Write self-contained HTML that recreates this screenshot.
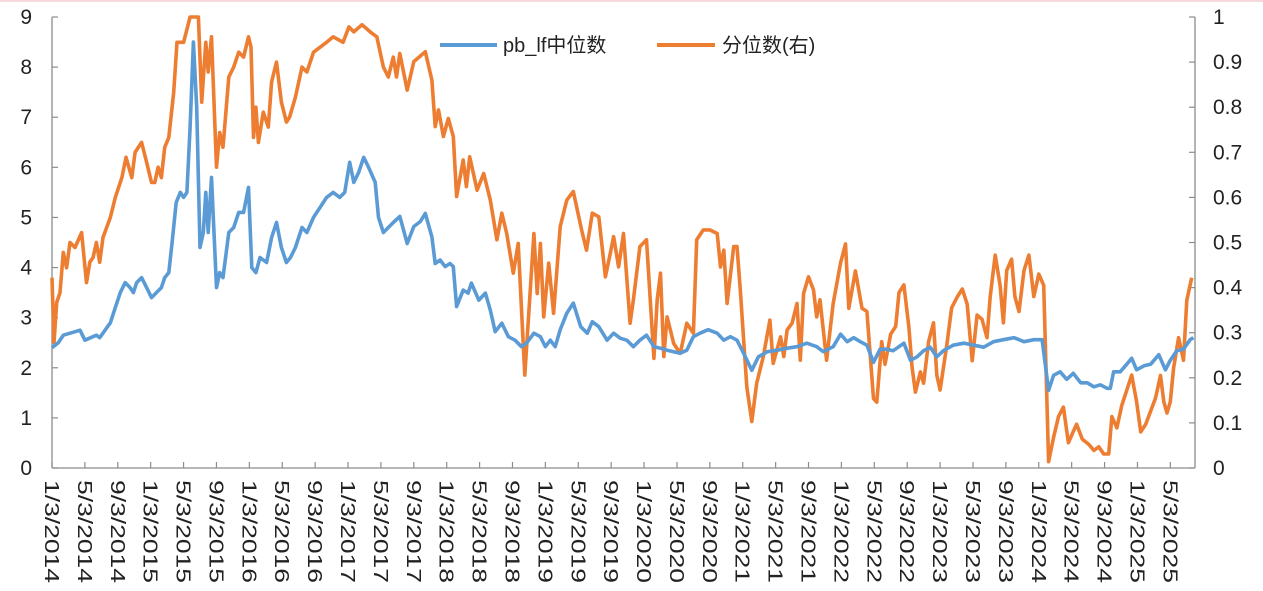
<!DOCTYPE html>
<html><head><meta charset="utf-8"><style>
html,body{margin:0;padding:0;background:#fff;}
svg{display:block;font-family:"Liberation Sans","Noto Sans CJK SC",sans-serif;}
</style></head><body>
<svg id="chart" width="1263" height="591" viewBox="0 0 1263 591" xmlns="http://www.w3.org/2000/svg">
<rect x="0" y="0" width="1263" height="2" fill="#f6d9de"/>
<g id="axes"></g>
<g id="series"></g>
<g>
  <g>
    <line x1="440" y1="45" x2="497" y2="45" stroke="#5B9BD5" stroke-width="4"/>
    <text x="503" y="52" font-size="20" fill="#222">pb_lf中位数</text>
  </g>
  <g>
    <line x1="657" y1="45" x2="715" y2="45" stroke="#ED7D31" stroke-width="4"/>
    <text x="722" y="52" font-size="20" fill="#222">分位数(右)</text>
  </g>
</g>
</svg>
<script>
// months since Jan 2014
const pbMonths = [0,0.77,1.38,2.39,3.4,4.0,5.4,5.8,7.1,7.7,8.3,8.9,9.5,9.9,10.3,10.9,11.5,12.1,12.7,13.3,13.7,14.2,14.6,15.1,15.6,16.0,16.4,16.8,17.2,17.6,18.0,18.4,18.7,19.0,19.4,20.0,20.4,20.8,21.5,22.1,22.7,23.3,23.9,24.3,24.8,25.3,26.1,26.7,27.3,27.9,28.5,29.0,29.6,30.4,31.0,31.8,32.6,33.4,34.2,35.0,35.6,36.2,36.7,37.3,37.9,38.5,39.3,39.7,40.3,40.9,41.5,42.3,43.2,44.0,44.8,45.4,46.2,46.6,47.2,47.8,48.4,48.8,49.2,50.0,50.6,51.0,51.9,52.7,53.3,53.9,54.7,55.5,56.3,57.1,57.7,58.6,59.4,60.0,60.6,61.2,61.8,62.6,63.4,64.3,65.1,65.7,66.5,67.5,68.3,69.1,69.9,70.7,71.5,72.3,73.2,74.0,74.8,75.6,76.4,77.2,78.0,78.8,79.8,80.9,81.7,82.5,83.3,84.1,85.1,85.9,87.0,88.2,89.4,90.6,91.8,93.0,93.8,95.0,95.9,96.7,97.5,98.3,99.1,99.9,100.7,101.5,102.3,103.6,104.4,105.2,106.0,106.8,107.6,108.4,109.6,110.9,112.1,113.3,114.5,115.7,117.0,118.2,119.4,120.4,121.2,121.8,122.6,123.4,124.2,125.1,125.9,126.7,127.5,128.3,128.7,129.1,129.9,130.7,131.3,131.9,132.8,133.6,134.6,135.4,136.0,136.8,137.6,138.4,138.8];
const pbValues = [2.4,2.5,2.65,2.7,2.75,2.55,2.65,2.6,2.9,3.2,3.5,3.7,3.6,3.5,3.7,3.8,3.6,3.4,3.5,3.6,3.8,3.9,4.5,5.3,5.5,5.4,5.5,6.8,8.5,7.2,4.4,4.7,5.5,4.7,5.8,3.6,3.9,3.8,4.7,4.8,5.1,5.1,5.6,4.0,3.9,4.2,4.1,4.6,4.9,4.4,4.1,4.2,4.4,4.8,4.7,5.0,5.2,5.4,5.5,5.4,5.5,6.1,5.7,5.9,6.2,6.0,5.7,5.0,4.7,4.8,4.9,5.02,4.48,4.82,4.92,5.08,4.61,4.08,4.15,4.02,4.08,4.02,3.22,3.55,3.49,3.69,3.35,3.49,3.15,2.72,2.89,2.62,2.55,2.42,2.49,2.69,2.62,2.42,2.55,2.42,2.76,3.09,3.29,2.82,2.69,2.92,2.82,2.55,2.69,2.59,2.55,2.42,2.55,2.65,2.42,2.39,2.35,2.32,2.29,2.35,2.62,2.69,2.76,2.69,2.55,2.62,2.55,2.29,1.95,2.22,2.32,2.35,2.39,2.42,2.49,2.42,2.32,2.42,2.67,2.52,2.6,2.52,2.45,2.11,2.37,2.37,2.34,2.49,2.15,2.22,2.34,2.41,2.22,2.34,2.45,2.49,2.45,2.41,2.52,2.56,2.6,2.52,2.56,2.56,1.55,1.85,1.92,1.77,1.89,1.70,1.70,1.62,1.66,1.59,1.59,1.92,1.92,2.07,2.19,1.96,2.04,2.07,2.26,1.96,2.15,2.34,2.37,2.56,2.6];
const pctMonths = [0,0.24,0.57,0.97,1.38,1.78,2.19,2.8,3.6,4.2,4.6,5.0,5.4,5.8,6.2,7.1,7.7,8.5,9.0,9.7,10.1,10.9,11.5,12.1,12.5,12.9,13.3,13.7,14.2,14.8,15.2,16.0,16.8,17.8,18.2,18.7,19.0,19.4,20.0,20.4,20.8,21.5,22.1,22.7,23.3,23.9,24.2,24.5,24.8,25.1,25.7,26.3,26.7,27.3,27.9,28.5,28.9,29.6,30.4,31.0,31.8,33.4,34.2,35.4,36.1,36.7,37.7,38.7,39.5,40.3,40.9,41.5,41.9,42.3,43.2,44.0,45.4,46.2,46.6,47.0,47.6,48.2,48.8,49.2,50.0,50.4,50.8,51.7,52.5,53.3,54.1,54.7,55.3,56.1,56.7,57.5,58.6,59.0,59.4,59.8,60.4,61.0,61.8,62.6,63.4,64.4,65.0,65.7,66.5,67.3,67.9,68.3,68.9,69.5,70.3,70.7,71.5,72.3,73.2,73.6,74.0,74.4,74.8,75.6,76.4,77.2,78.0,78.4,79.2,80.0,80.9,81.3,81.7,82.1,82.9,83.3,83.7,84.5,85.1,85.7,86.5,87.3,87.7,88.6,89.0,89.4,90.0,90.6,91.0,91.4,92.0,92.6,93.0,93.4,94.2,95.0,95.9,96.5,96.9,97.7,98.5,99.1,99.9,100.3,100.9,101.3,102.0,102.6,103.0,103.6,104.2,104.6,105.0,105.6,106.0,106.6,107.2,107.6,108.0,108.8,109.4,110.1,110.7,111.3,111.9,112.5,113.1,113.7,114.1,114.7,115.3,115.7,116.1,116.7,117.1,117.6,118.2,118.8,119.4,120.0,120.6,121.2,121.8,122.4,123.0,123.6,124.2,124.6,125.3,126.1,126.7,127.3,127.9,128.5,128.9,129.5,130.1,130.7,131.3,131.9,132.4,133.0,133.6,134.2,134.8,135.2,135.6,136.0,136.4,137.0,137.6,138.0,138.6];
const pctValues = [0.422,0.278,0.367,0.389,0.478,0.444,0.5,0.489,0.522,0.411,0.456,0.467,0.5,0.456,0.511,0.556,0.6,0.644,0.689,0.644,0.7,0.722,0.678,0.633,0.633,0.667,0.644,0.711,0.733,0.833,0.944,0.944,1.0,1.0,0.811,0.944,0.878,0.956,0.667,0.744,0.711,0.867,0.889,0.922,0.911,0.956,0.933,0.733,0.8,0.722,0.789,0.756,0.856,0.9,0.811,0.767,0.778,0.822,0.889,0.878,0.922,0.944,0.956,0.944,0.978,0.967,0.983,0.967,0.956,0.889,0.867,0.911,0.867,0.919,0.838,0.901,0.923,0.860,0.757,0.794,0.735,0.775,0.735,0.602,0.683,0.624,0.690,0.616,0.653,0.594,0.506,0.565,0.520,0.432,0.498,0.206,0.520,0.387,0.498,0.335,0.454,0.343,0.535,0.594,0.613,0.528,0.483,0.565,0.557,0.424,0.476,0.513,0.446,0.520,0.321,0.373,0.491,0.506,0.243,0.373,0.432,0.247,0.335,0.276,0.254,0.321,0.299,0.506,0.528,0.528,0.520,0.446,0.483,0.365,0.491,0.491,0.395,0.180,0.103,0.188,0.247,0.328,0.232,0.291,0.247,0.306,0.321,0.365,0.239,0.387,0.424,0.395,0.335,0.373,0.239,0.365,0.455,0.497,0.354,0.437,0.354,0.347,0.154,0.146,0.280,0.230,0.297,0.314,0.389,0.406,0.314,0.223,0.168,0.213,0.188,0.280,0.322,0.206,0.173,0.271,0.355,0.380,0.397,0.363,0.238,0.339,0.330,0.289,0.380,0.472,0.405,0.322,0.438,0.463,0.380,0.347,0.438,0.472,0.380,0.430,0.405,0.014,0.068,0.114,0.135,0.056,0.081,0.097,0.064,0.052,0.039,0.047,0.031,0.031,0.114,0.089,0.139,0.172,0.206,0.147,0.080,0.097,0.126,0.155,0.205,0.147,0.122,0.147,0.222,0.289,0.239,0.372,0.422];
const leftTicks = [0,1,2,3,4,5,6,7,8,9];
const rightTicks = ["0","0.1","0.2","0.3","0.4","0.5","0.6","0.7","0.8","0.9","1"];
const xTickLabels = ["1/3/2014","5/3/2014","9/3/2014","1/3/2015","5/3/2015","9/3/2015","1/3/2016","5/3/2016","9/3/2016","1/3/2017","5/3/2017","9/3/2017","1/3/2018","5/3/2018","9/3/2018","1/3/2019","5/3/2019","9/3/2019","1/3/2020","5/3/2020","9/3/2020","1/3/2021","5/3/2021","9/3/2021","1/3/2022","5/3/2022","9/3/2022","1/3/2023","5/3/2023","9/3/2023","1/3/2024","5/3/2024","9/3/2024","1/3/2025","5/3/2025"];

const NS="http://www.w3.org/2000/svg";
const X0=52,X1=1195,Y0=468,Y1=17,MMAX=139;
const xs=m=>X0+m*(X1-X0)/MMAX;
const yl=v=>Y0-v*(Y0-Y1)/9;
const yr=v=>Y0-v*(Y0-Y1)/1;
function mk(tag,attrs,parent){const e=document.createElementNS(NS,tag);for(const k in attrs)e.setAttribute(k,attrs[k]);parent.appendChild(e);return e;}
const axes=document.getElementById('axes');
const ser=document.getElementById('series');
const ax="#8c8c8c";
let e;
e=mk('line',{x1:X0,y1:Y1,x2:X0,y2:Y0,stroke:ax,'stroke-width':1.3},axes);


e=mk('line',{x1:X1,y1:Y1,x2:X1,y2:Y0,stroke:ax,'stroke-width':1.3},axes);


e=mk('line',{x1:X0,y1:Y0,x2:X1,y2:Y0,stroke:ax,'stroke-width':1.3},axes);


leftTicks.forEach(v=>{
  mk('line',{x1:X0,y1:yl(v),x2:X0+6,y2:yl(v),stroke:ax,'stroke-width':1.2},axes);
  const t=mk('text',{x:32,y:yl(v)+7,'text-anchor':'end','font-size':21,fill:'#222'},axes);
  t.textContent=v;
  
  
});
rightTicks.forEach(s=>{
  const v=parseFloat(s);
  mk('line',{x1:X1-6,y1:yr(v),x2:X1,y2:yr(v),stroke:ax,'stroke-width':1.2},axes);
  const t=mk('text',{x:1213,y:yr(v)+7,'font-size':21,fill:'#222'},axes);
  t.textContent=s;
  
  
});
xTickLabels.forEach((s,i)=>{
  const x=xs(i*4);
  mk('line',{x1:x,y1:Y0,x2:x,y2:Y0-6,stroke:ax,'stroke-width':1.2},axes);
  const t=mk('text',{x:0,y:0,'font-size':20,fill:'#222',textLength:103,lengthAdjust:'spacingAndGlyphs',transform:`translate(${x-7},${Y0+12}) rotate(90)`},axes);
  t.textContent=s;
  
  
});
function path(ms,vs,fy){return ms.map((m,i)=>(i?'L':'M')+xs(m).toFixed(1)+','+fy(vs[i]).toFixed(1)).join('');}
e=mk('path',{d:path(pctMonths,pctValues,yr),fill:'none',stroke:'#ED7D31','stroke-width':3.6,'stroke-linejoin':'round'},ser);


e=mk('path',{d:path(pbMonths,pbValues,yl),fill:'none',stroke:'#5B9BD5','stroke-width':3.6,'stroke-linejoin':'round'},ser);


</script>
</body></html>
